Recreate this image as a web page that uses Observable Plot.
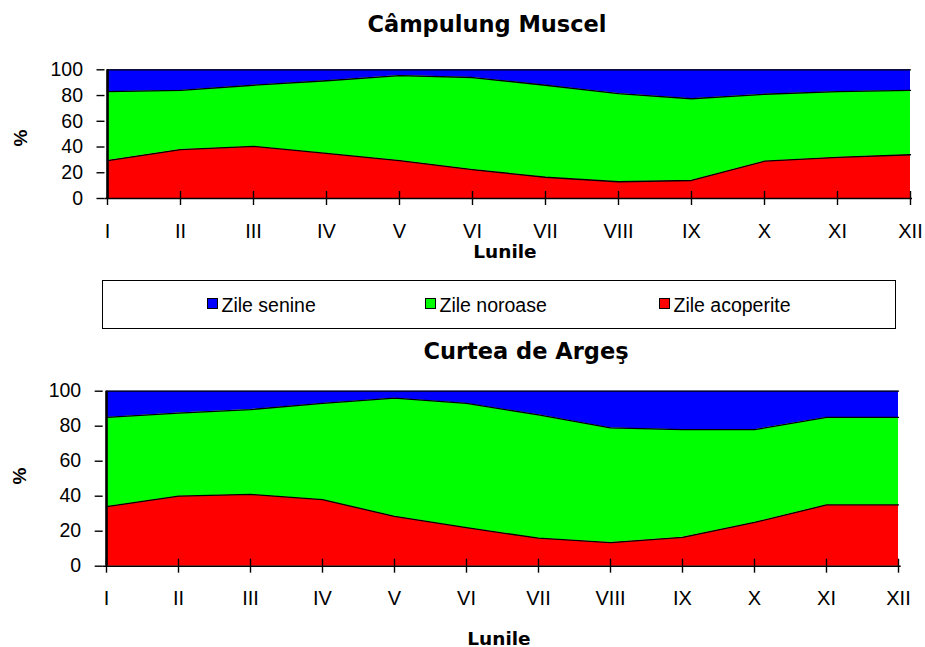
<!DOCTYPE html>
<html>
<head>
<meta charset="utf-8">
<script src="https://cdn.jsdelivr.net/npm/d3@7"></script>
<script src="https://cdn.jsdelivr.net/npm/@observablehq/plot@0.6"></script>
<style>
  html, body { margin: 0; padding: 0; background: #fff; }
  #root { position: relative; width: 925px; height: 647px; background: #fff; overflow: hidden; }
  .abs { position: absolute; }
  .title { font-family: "DejaVu Sans", sans-serif; font-weight: bold; font-size: 22.5px; line-height: 24px; text-align: center; width: 400px; color: #000; white-space: nowrap; }
  .xlab { font-family: "DejaVu Sans", sans-serif; font-weight: bold; font-size: 18.5px; line-height: 22px; text-align: center; width: 200px; color: #000; }
  .ylab { font-family: "Liberation Sans", Arial, sans-serif; font-weight: bold; font-size: 19px; line-height: 20px; width: 40px; text-align: center; transform: rotate(-90deg); color: #000; }
  .legbox { left: 102px; top: 280px; width: 794px; height: 49px; box-sizing: border-box; border: 1px solid #000; }
  .sw { width: 11px; height: 11px; box-sizing: border-box; border: 1px solid #000; top: 298px; }
  .lt { font-family: "Liberation Sans", Arial, sans-serif; font-size: 19.5px; line-height: 22px; top: 294px; color: #000; white-space: nowrap; }
</style>
</head>
<body>
<div id="root">
  <div class="abs title" style="left:287px; top:12px;">Câmpulung Muscel</div>
  <div class="abs" id="c1" style="left:0; top:40px;"></div>
  <div class="abs ylab" style="left:1px; top:128px;">%</div>
  <div class="abs xlab" style="left:405px; top:240.5px;">Lunile</div>

  <div class="abs legbox"></div>
  <div id="legend"></div>

  <div class="abs title" style="left:326px; top:339.2px;">Curtea de Argeş</div>
  <div class="abs" id="c2" style="left:0; top:375px;"></div>
  <div class="abs ylab" style="left:0px; top:466px;">%</div>
  <div class="abs xlab" style="left:399px; top:627.5px;">Lunile</div>
</div>
<script>
// ---- data ----
const months = ["I", "II", "III", "IV", "V", "VI", "VII", "VIII", "IX", "X", "XI", "XII"];
const series = ["Zile acoperite", "Zile noroase", "Zile senine"]; // stacking order, bottom to top
const legendOrder = ["Zile senine", "Zile noroase", "Zile acoperite"];
const colors = ["#ff0000", "#00ff00", "#0000ff"];
const yTicks = [0, 20, 40, 60, 80, 100];

// Câmpulung Muscel (%)
const campulungAcoperite = [29.5, 38, 40.5, 35, 29.5, 22.5, 16.5, 13, 14, 29, 32, 34];
const campulungNoroase   = [53.5, 46, 47.5, 56.5, 66, 71.5, 71.5, 68.5, 63.5, 52, 51, 50];
const campulungSenine    = [17, 16, 12, 8.5, 4.5, 6, 12, 18.5, 22.5, 19, 17, 16];

// Curtea de Argeş (%)
const argesAcoperite = [34, 40, 41, 38, 28.5, 22, 16, 13.5, 16.5, 25, 35, 35];
const argesNoroase   = [51, 47.5, 48.5, 55, 67.5, 71, 70.5, 65.5, 61.5, 53, 50, 50];
const argesSenine    = [15, 12.5, 10.5, 7, 4, 7, 13.5, 21, 22, 22, 15, 15];

function toRows(acoperite, noroase, senine) {
  const rows = [];
  [[series[0], acoperite], [series[1], noroase], [series[2], senine]].forEach(([s, vals]) => {
    vals.forEach((v, i) => rows.push({month: months[i], series: s, value: v}));
  });
  return rows;
}

function chart(rows, {height, marginTop, marginBottom, marginLeft, marginRight, labelPad}) {
  return Plot.plot({
    width: 925,
    height,
    marginTop, marginBottom, marginLeft, marginRight,
    style: {fontFamily: "'Liberation Sans', Arial, sans-serif", fontSize: "19.5px", color: "#000", background: "transparent"},
    x: {type: "point", domain: months, padding: 0, label: null},
    y: {domain: [0, 100], label: null},
    color: {domain: series, range: colors},
    marks: [
      Plot.areaY(rows, {x: "month", y: "value", z: "series", fill: "series"}),
      Plot.lineY(rows, Plot.stackY2({x: "month", y: "value", z: "series", stroke: "#000", strokeWidth: 1.3})),
      Plot.ruleY([0], {stroke: "#000", strokeWidth: 1.6}),
      Plot.ruleX([months[0]], {stroke: "#000", strokeWidth: 2.6}),
      Plot.axisY(yTicks, {tickSize: 8, tickPadding: 14, fontSize: 19.5, stroke: "#000", strokeWidth: 1.4}),
      Plot.axisX({tickSize: 14, dy: -7, tickFormat: () => "", stroke: "#000", strokeWidth: 1.4}),
      Plot.axisX({tickSize: 0, tickPadding: labelPad, fontSize: 20})
    ]
  });
}

document.getElementById("c1").appendChild(chart(
  toRows(campulungAcoperite, campulungNoroase, campulungSenine),
  {height: 230, marginTop: 29.3, marginBottom: 72, marginLeft: 104.5, marginRight: 13, labelPad: 25}
));
document.getElementById("c2").appendChild(chart(
  toRows(argesAcoperite, argesNoroase, argesSenine),
  {height: 272, marginTop: 15.7, marginBottom: 81.3, marginLeft: 102.7, marginRight: 24.3, labelPad: 24.5}
));

// legend
const legendX = {"Zile senine": 207, "Zile noroase": 425, "Zile acoperite": 659};
const leg = document.getElementById("legend");
legendOrder.forEach(name => {
  const sw = document.createElement("div");
  sw.className = "abs sw";
  sw.style.left = legendX[name] + "px";
  sw.style.background = colors[series.indexOf(name)];
  leg.appendChild(sw);
  const t = document.createElement("div");
  t.className = "abs lt";
  t.style.left = (legendX[name] + 14.5) + "px";
  t.textContent = name;
  leg.appendChild(t);
});
</script>
</body>
</html>
